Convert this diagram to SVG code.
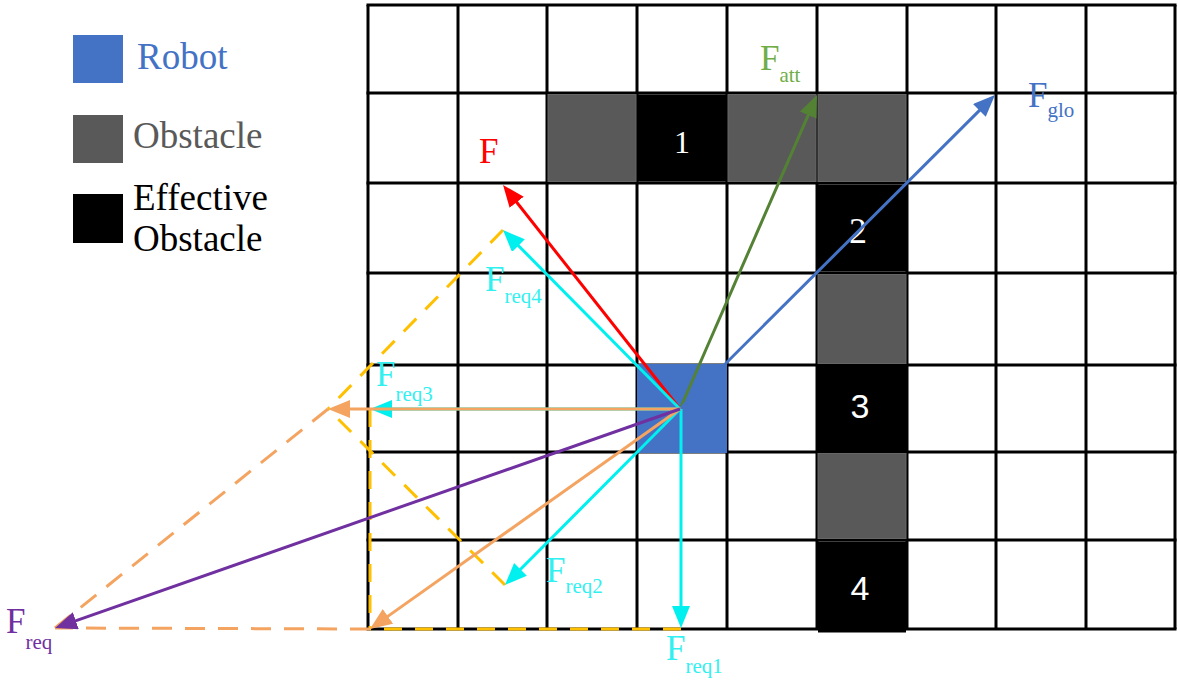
<svg xmlns="http://www.w3.org/2000/svg" width="1180" height="683" viewBox="0 0 1180 683">
<style>
  .grid line { stroke:#000; stroke-width:3; }
  .obs { fill:#595959; stroke:#666; stroke-width:1; }
  .eff { fill:#000; }
  .num { fill:#fff; font-family:"Liberation Serif", serif; font-size:34px; text-anchor:middle; }
  .lbl { font-family:"Liberation Serif", serif; font-size:35px; }
  .sub { font-size:21px; }
  .leg { font-family:"Liberation Serif", serif; font-size:37px; }
  .vec { stroke-width:3; fill:none; }
  .dy { stroke:#FFC000; stroke-width:3; stroke-dasharray:18 13; fill:none; }
  .do { stroke:#F4A460; stroke-width:3; stroke-dasharray:20 13; fill:none; }
</style>
<defs>
  <marker id="aRed" markerUnits="userSpaceOnUse" markerWidth="24" markerHeight="20" refX="14" refY="9" orient="auto"><path d="M0,0 L22,9 L0,18 z" fill="#FF0000"/></marker>
  <marker id="aCyan" markerUnits="userSpaceOnUse" markerWidth="24" markerHeight="20" refX="14" refY="9" orient="auto"><path d="M0,0 L22,9 L0,18 z" fill="#00F0F0"/></marker>
  <marker id="aGreen" markerUnits="userSpaceOnUse" markerWidth="24" markerHeight="20" refX="14" refY="9" orient="auto"><path d="M0,0 L22,9 L0,18 z" fill="#548235"/></marker>
  <marker id="aBlue" markerUnits="userSpaceOnUse" markerWidth="24" markerHeight="20" refX="14" refY="9" orient="auto"><path d="M0,0 L22,9 L0,18 z" fill="#4472C4"/></marker>
  <marker id="aOrange" markerUnits="userSpaceOnUse" markerWidth="24" markerHeight="20" refX="14" refY="9" orient="auto"><path d="M0,0 L22,9 L0,18 z" fill="#F4A460"/></marker>
  <marker id="aPurple" markerUnits="userSpaceOnUse" markerWidth="24" markerHeight="20" refX="14" refY="9" orient="auto"><path d="M0,0 L22,9 L0,18 z" fill="#7030A0"/></marker>
</defs>
<rect width="1180" height="683" fill="#fff"/>

<g id="legend">
  <rect x="73" y="35" width="50" height="48" fill="#4472C4"/>
  <text class="leg" x="137" y="69" fill="#4472C4">Robot</text>
  <rect x="73" y="115" width="50" height="48" fill="#595959"/>
  <text class="leg" x="133" y="148" fill="#595959">Obstacle</text>
  <rect x="73" y="194" width="50" height="49" fill="#000"/>
  <text class="leg" x="133" y="210" fill="#000">Effective</text>
  <text class="leg" x="133" y="251" fill="#000">Obstacle</text>
</g>

<g id="grid" class="grid">
  <line x1="368" y1="5" x2="368" y2="629"/>
  <line x1="458" y1="5" x2="458" y2="629"/>
  <line x1="547" y1="5" x2="547" y2="629"/>
  <line x1="637" y1="5" x2="637" y2="629"/>
  <line x1="727" y1="5" x2="727" y2="629"/>
  <line x1="817" y1="5" x2="817" y2="629"/>
  <line x1="907" y1="5" x2="907" y2="629"/>
  <line x1="996" y1="5" x2="996" y2="629"/>
  <line x1="1086" y1="5" x2="1086" y2="629"/>
  <line x1="1175" y1="5" x2="1175" y2="629"/>
  <line x1="366.5" y1="5" x2="1176.5" y2="5"/>
  <line x1="366.5" y1="93" x2="1176.5" y2="93"/>
  <line x1="366.5" y1="183" x2="1176.5" y2="183"/>
  <line x1="366.5" y1="273" x2="1176.5" y2="273"/>
  <line x1="366.5" y1="365" x2="1176.5" y2="365"/>
  <line x1="366.5" y1="452" x2="1176.5" y2="452"/>
  <line x1="366.5" y1="540" x2="1176.5" y2="540"/>
  <line x1="366.5" y1="629" x2="1176.5" y2="629"/>
</g>

<g id="obstacles">
  <rect class="obs" x="548" y="94.5" width="88" height="87"/>
  <rect class="eff" x="638" y="94.5" width="88" height="87"/>
  <text class="num" x="682" y="153" style="font-size:32px">1</text>
  <rect class="obs" x="728" y="94.5" width="88" height="87"/>
  <rect class="obs" x="818" y="94.5" width="88" height="87"/>
  <rect class="eff" x="818" y="184.5" width="88" height="87"/>
  <text class="num" x="858" y="243" style="font-size:36px">2</text>
  <rect class="obs" x="818" y="274.5" width="88" height="89"/>
  <rect class="eff" x="818" y="366" width="88" height="85"/>
  <text class="num" x="860" y="418" style="font-family:'Liberation Sans',sans-serif">3</text>
  <rect class="obs" x="818" y="453.5" width="88" height="85"/>
  <rect class="eff" x="818" y="541.5" width="88" height="91"/>
  <text class="num" x="860" y="600" style="font-family:'Liberation Sans',sans-serif">4</text>
</g>

<g id="robot">
  <rect x="637" y="364" width="90" height="89" fill="#4472C4"/>
</g>

<g id="connectors">
  <line class="dy" x1="503" y1="230" x2="328" y2="409"/>
  <line class="dy" x1="505" y1="585" x2="328" y2="409"/>
  <line class="dy" x1="370" y1="409" x2="370" y2="629"/>
  <line class="dy" x1="681" y1="629" x2="370" y2="629"/>
  <line class="do" x1="328" y1="409" x2="55" y2="628"/>
  <line class="do" x1="370" y1="629" x2="55" y2="628"/>

  <line class="vec" stroke="#548235" x1="680" y1="409" x2="813.8" y2="102.3" marker-end="url(#aGreen)"/>
  <line class="vec" stroke="#4472C4" x1="680" y1="409" x2="989.3" y2="100.6" marker-end="url(#aBlue)"/>
  <line class="vec" stroke="#FF0000" x1="680" y1="409" x2="508" y2="191.3" marker-end="url(#aRed)"/>
  <line class="vec" stroke="#00F0F0" x1="680" y1="409" x2="508.6" y2="235.7" marker-end="url(#aCyan)"/>
  <line class="vec" stroke="#00F0F0" x1="680" y1="409" x2="378" y2="409" marker-end="url(#aCyan)"/>
  <line class="vec" stroke="#00F0F0" x1="681" y1="409" x2="681" y2="620" marker-end="url(#aCyan)"/>
  <line class="vec" stroke="#00F0F0" x1="680" y1="409" x2="510.6" y2="579.3" marker-end="url(#aCyan)"/>
  <line class="vec" stroke="#F4A460" x1="680" y1="409" x2="336" y2="409" marker-end="url(#aOrange)"/>
  <line class="vec" stroke="#F4A460" x1="680" y1="409" x2="376.5" y2="624.4" marker-end="url(#aOrange)"/>
  <line class="vec" stroke="#7030A0" x1="680" y1="409" x2="62.6" y2="625.4" marker-end="url(#aPurple)"/>
</g>

<g id="labels">
  <text class="lbl" x="479" y="163" fill="#FF0000">F</text>
  <text class="lbl" x="760" y="70" fill="#70AD47">F<tspan class="sub" dy="12">att</tspan></text>
  <text class="lbl" x="1028" y="107" fill="#4472C4">F<tspan class="sub" dy="10">glo</tspan></text>
  <text class="lbl" x="485" y="291" fill="#33F0F0">F<tspan class="sub" dy="12">req4</tspan></text>
  <text class="lbl" x="376" y="386" fill="#33F0F0">F<tspan class="sub" dy="15">req3</tspan></text>
  <text class="lbl" x="546" y="582" fill="#33F0F0">F<tspan class="sub" dy="11">req2</tspan></text>
  <text class="lbl" x="666" y="660" fill="#33F0F0">F<tspan class="sub" dy="13">req1</tspan></text>
  <text class="lbl" x="6" y="633" fill="#7030A0">F<tspan class="sub" dy="16">req</tspan></text>
</g>
</svg>
